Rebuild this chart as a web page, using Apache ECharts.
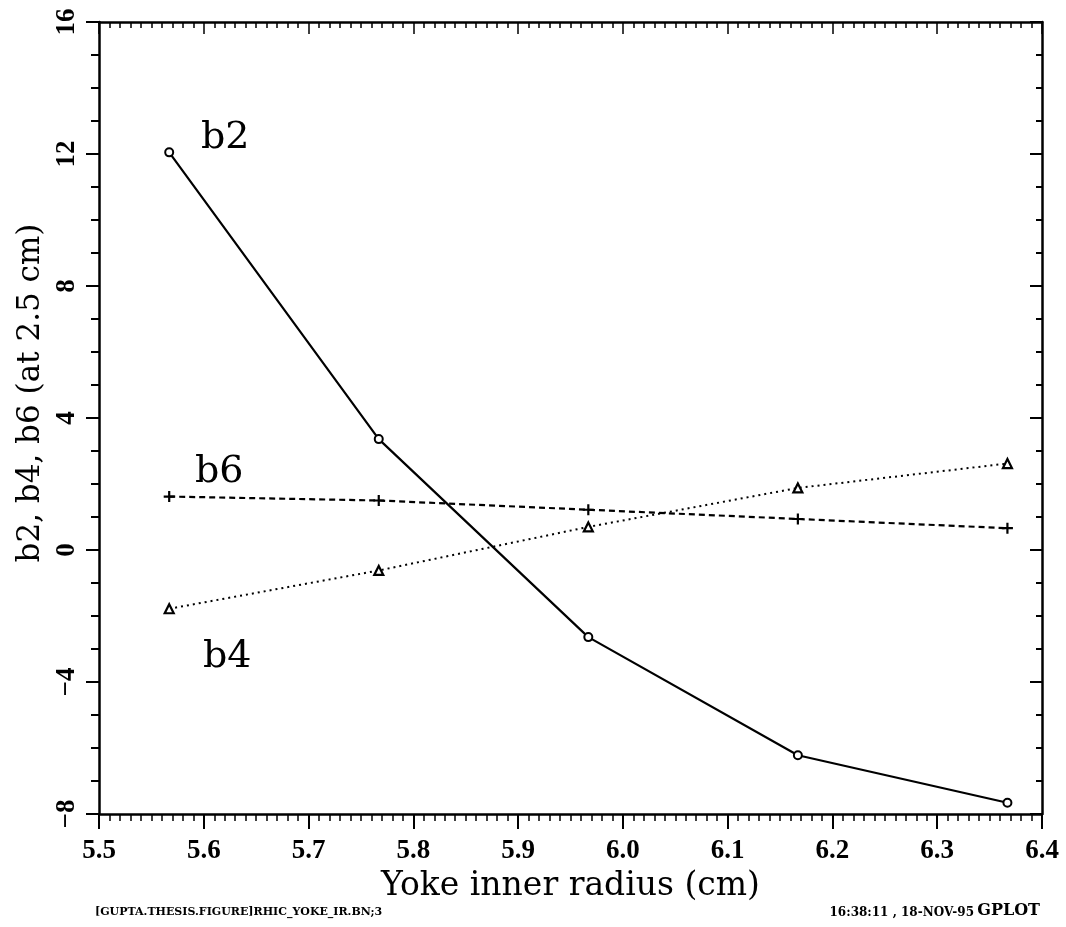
<!DOCTYPE html>
<html>
<head>
<meta charset="utf-8">
<style>
    html, body { margin: 0; padding: 0; background: #ffffff; }
    #chart { width: 1066px; height: 927px; }
</style>
<script src="https://cdn.jsdelivr.net/npm/echarts/dist/echarts.min.js"></script>
</head>
<body>
<div id="chart"></div>
<script>
    // yoke inner radius (cm)
    var radius = [5.567, 5.767, 5.967, 6.167, 6.367];
    var b2 = [12.05, 3.36, -2.64, -6.22, -7.66];
    var b4 = [-1.78, -0.62, 0.7, 1.88, 2.62];
    var b6 = [1.62, 1.5, 1.22, 0.94, 0.66];
    var seriesNames = ['b2', 'b4', 'b6'];

    var serif = '"DejaVu Serif", "Liberation Serif", serif';
    var plusPath = 'path://M4,0h2v4h4v2h-4v4h-2v-4h-4v-2h4z';

    function pairs(ys, name, labelOffset) {
        return ys.map(function (y, i) {
            var item = { value: [radius[i], y] };
            if (i === 0) {
                item.label = {
                    show: true,
                    formatter: name,
                    position: 'inside',
                    offset: labelOffset,
                    color: '#000',
                    fontFamily: serif,
                    fontSize: 38
                };
            }
            return item;
        });
    }

    var axisLine = { show: true, onZero: false, lineStyle: { color: '#000', width: 2.5 } };

    var chart = echarts.init(document.getElementById('chart'));
    chart.setOption({
        backgroundColor: '#ffffff',
        animation: false,
        grid: { left: 99, top: 22, right: 24, bottom: 113, containLabel: false },
        xAxis: [
            {
                type: 'value', min: 5.5, max: 6.4, interval: 0.1, position: 'bottom',
                name: 'Yoke inner radius (cm)', nameLocation: 'middle', nameGap: 52,
                nameTextStyle: { fontFamily: serif, fontSize: 33, color: '#000' },
                axisLine: axisLine,
                axisTick: { show: true, inside: false, length: 15, lineStyle: { color: '#000', width: 2 } },
                minorTick: { show: true, splitNumber: 10, length: 7, lineStyle: { color: '#000', width: 1.5 } },
                axisLabel: {
                    margin: 24, color: '#000', fontFamily: '"Liberation Serif", serif', fontWeight: 'bold', fontSize: 27,
                    formatter: function (v) { return v.toFixed(1); }
                },
                splitLine: { show: false }
            },
            {
                type: 'value', min: 5.5, max: 6.4, interval: 0.1, position: 'top',
                axisLine: axisLine,
                axisTick: { show: true, inside: true, length: 12, lineStyle: { color: '#000', width: 1.5 } },
                minorTick: { show: true, splitNumber: 10, length: 6, lineStyle: { color: '#000', width: 1.5 } },
                axisLabel: { show: false },
                splitLine: { show: false }
            }
        ],
        yAxis: [
            {
                type: 'value', min: -8, max: 16, interval: 4, position: 'left',
                name: 'b2, b4, b6 (at 2.5 cm)', nameLocation: 'middle', nameGap: 46,
                nameTextStyle: { fontFamily: serif, fontSize: 31, color: '#000', padding: [0, 0, 0, 50] },
                axisLine: axisLine,
                axisTick: { show: true, inside: false, length: 13, lineStyle: { color: '#000', width: 2 } },
                minorTick: { show: true, splitNumber: 4, length: 8, lineStyle: { color: '#000', width: 2 } },
                axisLabel: {
                    margin: 18, rotate: 90, color: '#000', fontFamily: '"Liberation Serif", serif', fontWeight: 'bold', fontSize: 27,
                    formatter: function (v) { return v < 0 ? '\u2212' + Math.abs(v) : String(v); }
                },
                splitLine: { show: false }
            },
            {
                type: 'value', min: -8, max: 16, interval: 4, position: 'right',
                axisLine: axisLine,
                axisTick: { show: true, inside: true, length: 12, lineStyle: { color: '#000', width: 2 } },
                minorTick: { show: true, splitNumber: 4, length: 6, lineStyle: { color: '#000', width: 2 } },
                axisLabel: { show: false },
                splitLine: { show: false }
            }
        ],
        series: [
            {
                name: seriesNames[0], type: 'line', data: pairs(b2, 'b2', [56, -14]),
                symbol: 'emptyCircle', symbolSize: 8,
                lineStyle: { color: '#000', width: 2.2 },
                itemStyle: { color: '#000', borderWidth: 2 }
            },
            {
                name: seriesNames[1], type: 'line', data: pairs(b4, 'b4', [58, 48]),
                symbol: 'triangle', symbolSize: 9,
                lineStyle: { color: '#000', width: 2, type: [2, 4] },
                itemStyle: { color: '#fff', borderColor: '#000', borderWidth: 2.2 }
            },
            {
                name: seriesNames[2], type: 'line', data: pairs(b6, 'b6', [50, -24]),
                symbol: plusPath, symbolSize: 11,
                lineStyle: { color: '#000', width: 2.2, type: [6, 4] },
                itemStyle: { color: '#000' }
            }
        ],
        graphic: [
            {
                type: 'text', left: 95, top: 907,
                style: { text: '[GUPTA.THESIS.FIGURE]RHIC_YOKE_IR.BN;3', fill: '#000',
                    font: 'bold 11px "DejaVu Serif", serif' }
            },
            {
                type: 'text', right: 92, top: 907,
                style: { text: '16:38:11 , 18-NOV-95', fill: '#000',
                    font: 'bold 12px "DejaVu Serif", serif' }
            },
            {
                type: 'text', right: 26, top: 903,
                style: { text: 'GPLOT', fill: '#000',
                    font: 'bold 16px "DejaVu Serif", serif' }
            }
        ]
    });
</script>
</body>
</html>
